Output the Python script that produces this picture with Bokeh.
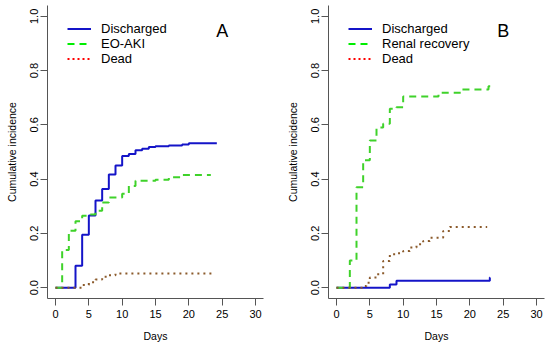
from bokeh.plotting import figure
from bokeh.layouts import row
from bokeh.models import Legend, LegendItem, Range1d, FixedTicker, Label, PrintfTickFormatter
from bokeh.embed import file_html
from bokeh.resources import INLINE

# ---- data ----
a_dis_t = [0, 3, 4, 5, 6, 7, 8, 9, 10, 11, 12, 13, 14, 15, 17, 19, 20, 24.2]
a_dis_v = [0, 0.081, 0.195, 0.266, 0.321, 0.364, 0.417, 0.450, 0.485, 0.493, 0.506, 0.512, 0.518, 0.521, 0.524, 0.528, 0.532, 0.532]
a_aki_t = [0, 1, 2, 3, 4, 5, 6, 7, 8, 10, 11, 12, 15, 17, 19, 23.3]
a_aki_v = [0, 0.139, 0.21, 0.245, 0.265, 0.27, 0.283, 0.314, 0.332, 0.346, 0.375, 0.394, 0.398, 0.407, 0.415, 0.415]
a_dead_t = [0, 4, 5, 6, 7, 8, 9, 23.5]
a_dead_v = [0, 0.01, 0.02, 0.03, 0.04, 0.046, 0.052, 0.052]

b_dis_t = [0, 8, 9, 23, 23.01]
b_dis_v = [0, 0.012, 0.025, 0.037, 0.037]
b_ren_t = [0, 2, 3, 4, 5, 6, 7, 8, 9, 10, 15.3, 18.8, 22.8, 23.1]
b_ren_v = [0, 0.10, 0.37, 0.47, 0.542, 0.59, 0.604, 0.659, 0.665, 0.705, 0.718, 0.73, 0.742, 0.742]
b_dead_t = [0, 4, 4.5, 5, 6, 7, 8, 9, 10, 11, 12, 13, 14, 16, 17, 22.6]
b_dead_v = [0, 0.006, 0.018, 0.037, 0.049, 0.098, 0.123, 0.127, 0.135, 0.148, 0.16, 0.172, 0.184, 0.209, 0.224, 0.224]

x_ticks = [0, 5, 10, 15, 20, 25, 30]
y_ticks = [0, 0.2, 0.4, 0.6, 0.8, 1.0]
labels_a = ["Discharged", "EO-AKI", "Dead"]
labels_b = ["Discharged", "Renal recovery", "Dead"]

FONT = "Liberation Sans"
BLUE = "#1414c8"
GREEN_PLOT = "#3fd22a"
GREEN_LEG = "#00ee00"
BROWN = "#8b5a2b"
RED = "#ff0000"
NAN = float("nan")


def panel(width, border_left, border_right, dis, mid, dead, labels, letter):
    p = figure(width=width, height=344, output_backend="svg", toolbar_location=None,
               x_range=Range1d(-1.2, 31.2), y_range=Range1d(-0.04, 1.04),
               min_border_left=border_left, min_border_right=border_right,
               min_border_top=5, min_border_bottom=46)
    p.outline_line_color = None
    p.xgrid.visible = False
    p.ygrid.visible = False
    p.background_fill_color = "white"
    p.border_fill_color = "white"

    p.step(dis[0], dis[1], mode="after", line_color=BLUE, line_width=2)
    p.step(mid[0], mid[1], mode="after", line_color=GREEN_PLOT, line_width=2, line_dash="7 5")
    p.step(dead[0], dead[1], mode="after", line_color=BROWN, line_width=2, line_dash="2 4")

    # legend-only renderers (legend colours differ from plotted colours)
    r1 = p.line([NAN], [NAN], line_color=BLUE, line_width=2)
    r2 = p.line([NAN], [NAN], line_color=GREEN_LEG, line_width=2, line_dash="7 5")
    r3 = p.line([NAN], [NAN], line_color=RED, line_width=2, line_dash="2 3")
    leg = Legend(items=[LegendItem(label=labels[0], renderers=[r1]),
                        LegendItem(label=labels[1], renderers=[r2]),
                        LegendItem(label=labels[2], renderers=[r3])],
                 location=(20, 232), padding=0, margin=0, spacing=0,
                 glyph_width=24, glyph_height=13, label_height=13, label_standoff=10,
                 border_line_alpha=0, background_fill_alpha=0,
                 label_text_font=FONT, label_text_font_size="13px", label_text_color="black")
    p.add_layout(leg, "center")

    p.add_layout(Label(x=25, y=0.945, text=letter, text_align="center", text_baseline="middle",
                       text_font=FONT, text_font_size="18px", text_color="black"))

    for ax in (p.xaxis[0], p.yaxis[0]):
        ax.axis_line_color = "#555555"
        ax.major_tick_line_color = "#555555"
        ax.minor_tick_line_color = None
        ax.major_tick_out = 7
        ax.major_tick_in = 0
        ax.major_label_text_font = FONT
        ax.major_label_text_font_size = "11px"
        ax.major_label_text_color = "black"
        ax.axis_label_text_font = FONT
        ax.axis_label_text_font_size = "10.5px"
        ax.axis_label_text_font_style = "normal"
        ax.axis_label_text_color = "black"

    p.xaxis.ticker = FixedTicker(ticks=x_ticks)
    p.yaxis.ticker = FixedTicker(ticks=y_ticks)
    p.yaxis.formatter = PrintfTickFormatter(format="%.1f")
    p.yaxis.major_label_orientation = "vertical"
    p.xaxis.major_label_standoff = 4
    p.yaxis.major_label_standoff = 2
    p.xaxis.axis_label = "Days"
    p.yaxis.axis_label = "Cumulative incidence"
    p.xaxis.axis_label_standoff = 9
    p.yaxis.axis_label_standoff = 10
    return p


pa = panel(275, 47, 12, (a_dis_t, a_dis_v), (a_aki_t, a_aki_v), (a_dead_t, a_dead_v), labels_a, "A")
pb = panel(275, 53, 6, (b_dis_t, b_dis_v), (b_ren_t, b_ren_v), (b_dead_t, b_dead_v), labels_b, "B")

layout = row(pa, pb)
open("out.html", "w").write(file_html(layout, INLINE))
